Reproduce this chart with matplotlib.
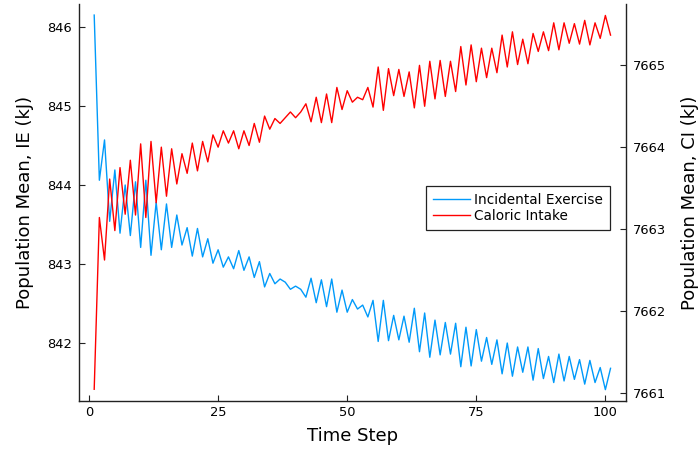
import matplotlib
matplotlib.use("Agg")
import matplotlib.pyplot as plt
import numpy as np

time_step = list(range(1, 102))

incidental_exercise = [
    846.15, 844.06, 844.57, 843.54, 844.19, 843.39, 844.00, 843.36, 844.04, 843.21,
    844.06, 843.11, 843.78, 843.18, 843.76, 843.21, 843.62, 843.24, 843.46, 843.10,
    843.45, 843.09, 843.32, 843.01, 843.18, 842.96, 843.09, 842.94, 843.17, 842.92,
    843.09, 842.83, 843.03, 842.71, 842.88, 842.75, 842.81, 842.77, 842.68, 842.72,
    842.68, 842.58, 842.82, 842.51, 842.80, 842.46, 842.81, 842.39, 842.67, 842.39,
    842.55, 842.43, 842.48, 842.33, 842.54, 842.02, 842.54, 842.03, 842.35, 842.04,
    842.34, 842.01, 842.44, 841.89, 842.38, 841.82, 842.29, 841.85, 842.26, 841.86,
    842.25, 841.70, 842.20, 841.71, 842.17, 841.77, 842.07, 841.73, 842.04, 841.61,
    842.00, 841.58, 841.95, 841.63, 841.95, 841.53, 841.93, 841.55, 841.83, 841.50,
    841.86, 841.52, 841.83, 841.54, 841.79, 841.48, 841.78, 841.50, 841.69, 841.41,
    841.68,
]

caloric_intake = [
    7661.04, 7663.14, 7662.62, 7663.61, 7662.98, 7663.75, 7663.18, 7663.84, 7663.17, 7664.04,
    7663.14, 7664.07, 7663.32, 7664.00, 7663.40, 7663.98, 7663.55, 7663.92, 7663.68, 7664.05,
    7663.71, 7664.07, 7663.82, 7664.15, 7664.00, 7664.20, 7664.05, 7664.20, 7663.98, 7664.20,
    7664.02, 7664.29, 7664.06, 7664.38, 7664.22, 7664.35, 7664.29, 7664.36, 7664.43, 7664.36,
    7664.43, 7664.53, 7664.31, 7664.61, 7664.30, 7664.65, 7664.30, 7664.73, 7664.46, 7664.69,
    7664.55, 7664.61, 7664.58, 7664.73, 7664.49, 7664.98, 7664.45, 7664.96, 7664.63, 7664.95,
    7664.62, 7664.92, 7664.48, 7665.00, 7664.50, 7665.05, 7664.59, 7665.06, 7664.62, 7665.05,
    7664.68, 7665.23, 7664.76, 7665.25, 7664.80, 7665.21, 7664.85, 7665.21, 7664.91, 7665.37,
    7664.98, 7665.41, 7665.01, 7665.32, 7665.02, 7665.39, 7665.17, 7665.41, 7665.18, 7665.52,
    7665.19, 7665.52, 7665.27, 7665.51, 7665.26, 7665.55, 7665.25, 7665.52, 7665.33, 7665.61,
    7665.37,
]

x_ticks = [0, 25, 50, 75, 100]
ie_ticks = [842, 843, 844, 845, 846]
ci_ticks = [7661, 7662, 7663, 7664, 7665]

BLUE = "#009AFA"
RED = "#FF0000"
AXC = "#222222"

plt.rcParams['font.family'] = ['DejaVu Sans']

fig = plt.figure(figsize=(6.99, 4.51), dpi=100)
ax = fig.add_axes([0.1126, 0.1115, 0.8956 - 0.1126, 0.9911 - 0.1115])
ax2 = ax.twinx()

l1, = ax.plot(time_step, incidental_exercise, color=BLUE, lw=1.0, label="Incidental Exercise")
l2, = ax2.plot(time_step, caloric_intake, color=RED, lw=1.0, label="Caloric Intake")

ax.set_xlim(-2, 104)
ax.set_ylim(841.27, 846.29)
ax2.set_ylim(7660.90, 7665.75)

ax.set_xticks(x_ticks)
ax.set_yticks(ie_ticks)
ax2.set_yticks(ci_ticks)

for a in (ax, ax2):
    for s in a.spines.values():
        s.set_visible(False)
        s.set_color(AXC)
        s.set_linewidth(1.0)
ax.spines['left'].set_visible(True)
ax.spines['bottom'].set_visible(True)
ax2.spines['right'].set_visible(True)

ax.tick_params(axis='both', direction='in', length=4, width=0.8, color=AXC,
               labelsize=9.4, labelcolor='black')
ax2.tick_params(axis='y', direction='in', length=4, width=0.8, color=AXC,
                labelsize=9.4, labelcolor='black')
ax.tick_params(axis='y', pad=5)
ax2.tick_params(axis='y', pad=5)

ax.set_xlabel("Time Step", fontsize=13, labelpad=6)
ax.set_ylabel("Population Mean, IE (kJ)", fontsize=13, labelpad=9.5)
ax2.set_ylabel("Population Mean, CI (kJ)", fontsize=13, labelpad=10.5)

leg = ax2.legend(handles=[l1, l2], loc='upper left', bbox_to_anchor=(0.635, 0.541),
                 fontsize=9.8, frameon=True, fancybox=False, framealpha=1.0,
                 edgecolor=AXC, borderpad=0.5, handlelength=2.7, handletextpad=0.3,
                 labelspacing=0.15, borderaxespad=0.0)
leg.get_frame().set_linewidth(0.9)

fig.savefig("out.png", dpi=100)
